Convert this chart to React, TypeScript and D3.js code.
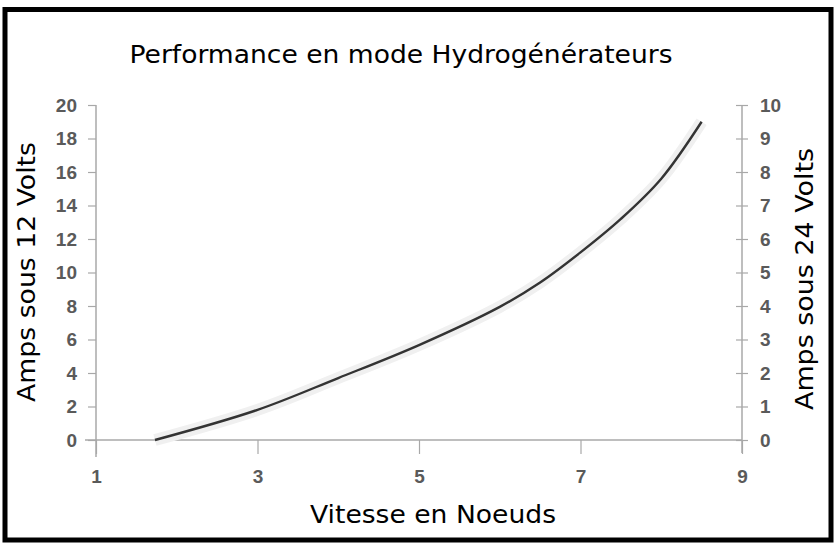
import React, { useEffect, useRef } from "react";
import * as d3 from "d3";

// speed in knots vs amps at 12 V
const speeds = [1.73, 3, 4, 5, 6, 6.5, 7, 7.5, 8, 8.5];
const amps12 = [0, 1.8, 3.7, 5.67, 7.95, 9.4, 11.2, 13.2, 15.6, 19.0];

const xTicks = [1, 3, 5, 7, 9];
const leftTicks = [0, 2, 4, 6, 8, 10, 12, 14, 16, 18, 20];
const rightTicks = [0, 1, 2, 3, 4, 5, 6, 7, 8, 9, 10];

const title = "Performance en mode Hydrogénérateurs";
const xTitle = "Vitesse en Noeuds";
const leftTitle = "Amps sous 12 Volts";
const rightTitle = "Amps sous 24 Volts";

const W = 834, H = 543;

const App = () => {
  const ref = useRef<SVGSVGElement>(null);

  useEffect(() => {
    const svg = d3.select(ref.current);
    svg.selectAll("*").remove();

    const x = d3.scaleLinear().domain([1, 9]).range([96, 742]);
    const yL = d3.scaleLinear().domain([0, 20]).range([440, 105]);
    const yR = d3.scaleLinear().domain([0, 10]).range([440, 105]);

    svg.append("rect").attr("width", W).attr("height", H).attr("fill", "#fff");
    svg.append("rect")
      .attr("x", 5).attr("y", 9.5).attr("width", 826).attr("height", 530.5)
      .attr("fill", "none").attr("stroke", "#000").attr("stroke-width", 5);

    const axisColor = "#a8a8a8";
    const tickFont = "'Liberation Sans', Arial, sans-serif";
    const labelColor = "#5a5a5a";

    // zero line
    svg.append("line")
      .attr("x1", 85).attr("x2", x(9)).attr("y1", yL(0)).attr("y2", yL(0))
      .attr("stroke", axisColor).attr("stroke-width", 1.5);

    // left axis
    const gl = svg.append("g").attr("transform", `translate(${x(1)},0)`)
      .call(d3.axisLeft(yL).tickValues(leftTicks).tickSize(8).tickPadding(11));
    gl.select(".domain").remove();
    gl.append("line").attr("y1", yL(20)).attr("y2", 457).attr("stroke", axisColor).attr("stroke-width", 1.5);

    // right axis
    const gr = svg.append("g").attr("transform", `translate(${x(9)},0)`)
      .call(d3.axisRight(yR).tickValues(rightTicks).tickSize(6).tickPadding(12));
    gr.select(".domain").remove();
    gr.selectAll(".tick line").attr("x1", -6);
    gr.append("line").attr("y1", yR(10)).attr("y2", 453).attr("stroke", axisColor).attr("stroke-width", 1.5);

    // bottom axis
    const gb = svg.append("g").attr("transform", `translate(0,${yL(0)})`)
      .call(d3.axisBottom(x).tickValues(xTicks).tickSize(14).tickPadding(16));
    gb.select(".domain").remove();

    [gl, gr, gb].forEach((g) => {
      g.selectAll(".tick line").attr("stroke", axisColor).attr("stroke-width", 1.2);
      g.selectAll(".tick text")
        .attr("fill", labelColor)
        .style("font-family", tickFont)
        .style("font-weight", "bold")
        .style("font-size", "19px");
    });

    // curve
    const line = d3.line<number>()
      .x((d, i) => x(speeds[i]))
      .y((d) => yL(d))
      .curve(d3.curveCatmullRom.alpha(0.5));

    svg.append("path")
      .datum(amps12)
      .attr("d", line)
      .attr("fill", "none")
      .attr("stroke", "#f0f0f0")
      .attr("stroke-width", 12);
    svg.append("path")
      .datum(amps12)
      .attr("d", line)
      .attr("fill", "none")
      .attr("stroke", "#333")
      .attr("stroke-width", 2.4);

    // Verdana-like widths: stretch DejaVu Sans to the measured lengths
    const textFont = "'DejaVu Sans', Verdana, sans-serif";
    const label = (s: string, len: number) =>
      svg.append("text")
        .attr("text-anchor", "middle")
        .attr("textLength", len)
        .attr("lengthAdjust", "spacingAndGlyphs")
        .style("font-family", textFont).style("font-size", "24px")
        .text(s);

    label(title, 543).attr("x", 401).attr("y", 63);
    label(xTitle, 246).attr("x", 433).attr("y", 523);
    label(leftTitle, 260).attr("transform", "translate(35,272) rotate(-90)");
    label(rightTitle, 262).attr("transform", "translate(813,279) rotate(-90)");
  }, []);

  return (
    <svg
      ref={ref}
      width={W}
      height={H}
      style={{ position: "absolute", left: 0, top: 0, display: "block" }}
    />
  );
};

export default App;
